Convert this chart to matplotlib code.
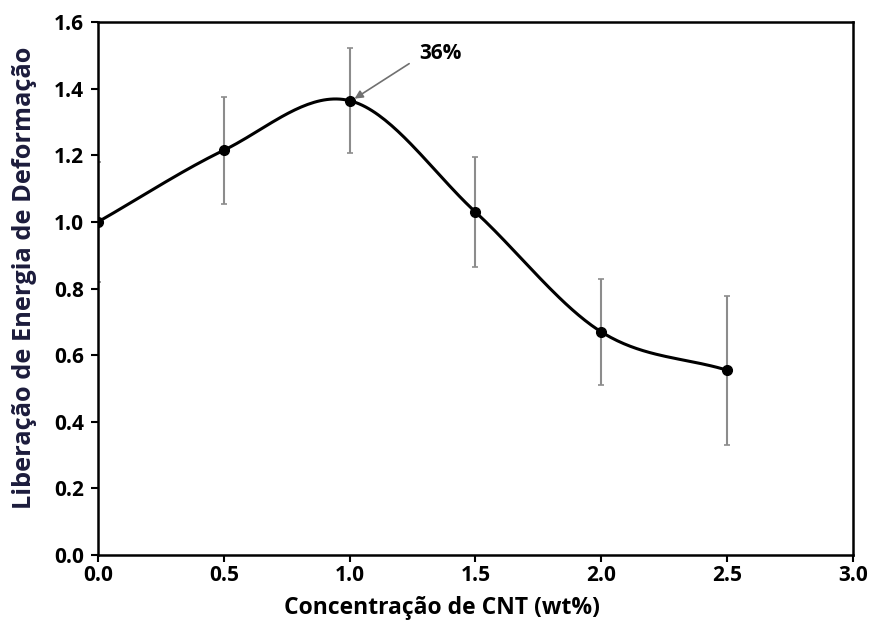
import numpy as np
import matplotlib.pyplot as plt

# data
cnt = [0.0, 0.5, 1.0, 1.5, 2.0, 2.5]
energia = [1.0, 1.215, 1.364, 1.03, 0.67, 0.555]
erro = [0.18, 0.16, 0.157, 0.165, 0.16, 0.224]


def suave(x, y, n=40):
    # Catmull-Rom curve through the points (like Excel's smoothed line)
    x = np.asarray(x, float)
    y = np.asarray(y, float)
    px = np.concatenate([[2 * x[0] - x[1]], x, [2 * x[-1] - x[-2]]])
    py = np.concatenate([[2 * y[0] - y[1]], y, [2 * y[-1] - y[-2]]])
    xs, ys = [], []
    t = np.linspace(0, 1, n)
    for i in range(1, len(px) - 2):
        for p, out in ((px, xs), (py, ys)):
            p0, p1, p2, p3 = p[i - 1], p[i], p[i + 1], p[i + 2]
            out.extend(0.5 * (2 * p1 + (-p0 + p2) * t
                              + (2 * p0 - 5 * p1 + 4 * p2 - p3) * t ** 2
                              + (-p0 + 3 * p1 - 3 * p2 + p3) * t ** 3))
    return xs, ys


plt.rcParams['font.family'] = ['Open Sans', 'DejaVu Sans']

fig = plt.figure(figsize=(8.71, 6.29), dpi=100)
ax = fig.add_axes([0.1125, 0.1176, 0.8665, 0.8474])

ax.errorbar(cnt, energia, yerr=erro, fmt='none', ecolor='#8c8c8c',
            elinewidth=1.5, capsize=2.5, capthick=1.2, zorder=2)
sx, sy = suave(cnt, energia)
ax.plot(sx, sy, color='black', lw=2.2, zorder=3)
ax.plot(cnt, energia, 'o', color='black', ms=7, zorder=4)

ax.annotate('36%', xy=(1.02, 1.37), xytext=(1.36, 1.475),
            fontsize=15, fontweight='bold', ha='center', va='bottom',
            arrowprops=dict(arrowstyle='-|>', color='#707070', lw=1.2,
                            mutation_scale=12, shrinkA=6, shrinkB=0,
                            relpos=(0.0, 0.3)))

ax.set_xlim(0, 3.0)
ax.set_ylim(0, 1.6)
ax.set_xticks(np.arange(0, 3.01, 0.5))
ax.set_yticks(np.arange(0, 1.61, 0.2))
ax.set_xticklabels(['%.1f' % v for v in np.arange(0, 3.01, 0.5)])
ax.set_yticklabels(['%.1f' % v for v in np.arange(0, 1.61, 0.2)])
for s in ax.spines.values():
    s.set_linewidth(1.8)
ax.tick_params(direction='out', length=5, width=1.5, labelsize=15)
ax.tick_params(axis='y', pad=5)
ax.tick_params(axis='x', pad=2)
for lab in ax.get_xticklabels() + ax.get_yticklabels():
    lab.set_fontweight('bold')

ax.set_xlabel('Concentração de CNT (wt%)', fontsize=16.5, fontweight='bold')
ax.set_ylabel('Liberação de Energia de Deformação', fontsize=18.3,
              fontweight='bold', color='#1c1c3c')
ax.xaxis.set_label_coords(0.456, -0.077)
ax.yaxis.set_label_coords(-0.081, 0.52)

fig.savefig('out.png', dpi=100)
